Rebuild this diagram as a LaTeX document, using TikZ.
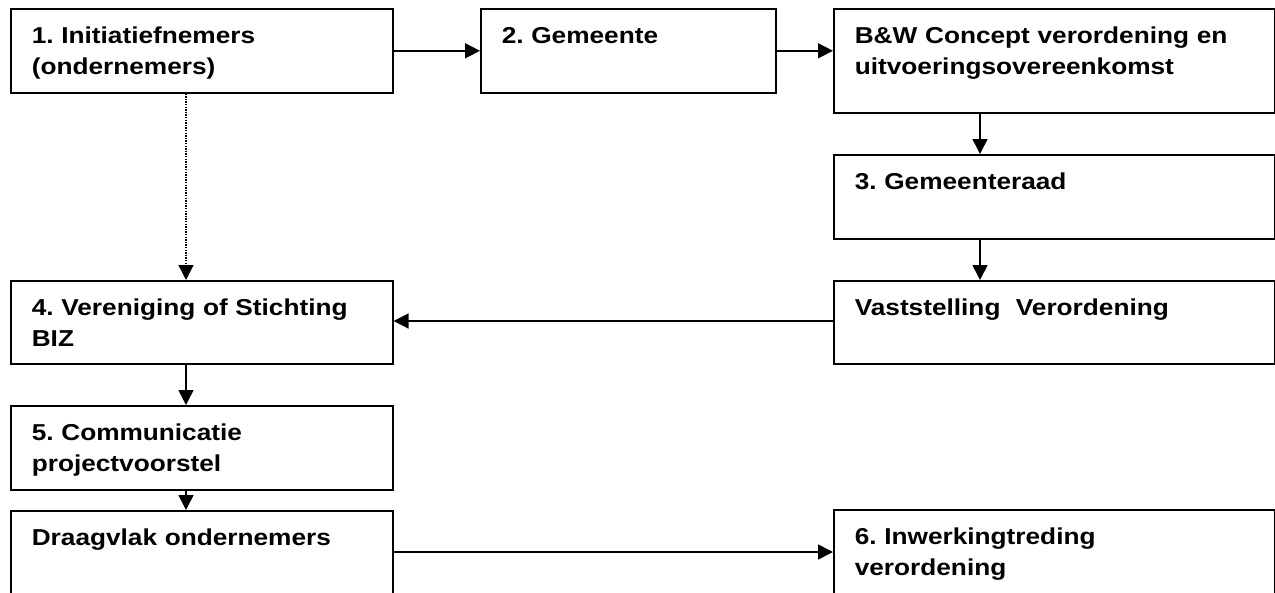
\documentclass[tikz,border=0pt]{standalone}
\usepackage{fontspec}
\setmainfont{Liberation Sans}[FakeStretch=1.14]
\usepackage{tikz}
\usetikzlibrary{arrows.meta}
\usetikzlibrary{calc}
\frenchspacing

\tikzset{
	blok/.style 2 args={draw, rectangle, line width=1.6pt, anchor=north west, align=left,
		inner xsep=21pt, inner ysep=0pt, text width=#1, text height=35pt, text depth=#2,
		font=\fontsize{23}{30.5}\selectfont\bfseries},
	pijl/.style={-{Triangle[length=15pt, width=15pt]}, line width=1.6pt}
}

\begin{document}
\begin{tikzpicture}[x=1pt, y=-1pt]
\clip (0,0) rectangle (1275,592);
\node (init) [blok={340pt}{49pt}] at (10,8) {1. Initiatiefnemers\\(ondernemers)};
\node (gem) [blok={253pt}{49pt}] at (480,8) {2. Gemeente};
\node (bw) [blok={399pt}{69pt}] at (833,8) {B\&W Concept verordening en\\uitvoeringsovereenkomst};
\node (raad) [blok={399pt}{49pt}] at (833,154) {3. Gemeenteraad};
\node (vast) [blok={399pt}{48pt}] at (833,280) {Vaststelling\ \ Verordening};
\node (ver) [blok={340pt}{48pt}] at (10,280) {4. Vereniging of Stichting\\BIZ};
\node (comm) [blok={340pt}{49pt}] at (10,405) {5. Communicatie\\projectvoorstel};
\node (draag) [blok={340pt}{65pt}] at (10,510) {Draagvlak ondernemers};
\node (inw) [blok={399pt}{65pt}] at (833,509) {6. Inwerkingtreding\\verordening};
\coordinate (links) at (186,0);
\coordinate (rechts) at (980,0);
\coordinate (midden) at (0,321);
\coordinate (onder) at (0,552);
\path[pijl]
(init.east) edge (gem.west)
(gem.east) edge (gem.east -| bw.west)
(bw.south -| rechts) edge (raad.north -| rechts)
(raad.south -| rechts) edge (vast.north -| rechts)
(vast.west |- midden) edge (ver.east |- midden)
(ver.south -| links) edge (comm.north -| links)
(comm.south -| links) edge (draag.north -| links)
(draag.east |- onder) edge (inw.west |- onder)
;
\path[pijl, dash pattern=on 1.3pt off 1.3pt, line width=1.3pt]
(init.south -| links) edge (ver.north -| links)
;
\end{tikzpicture}
\end{document}
